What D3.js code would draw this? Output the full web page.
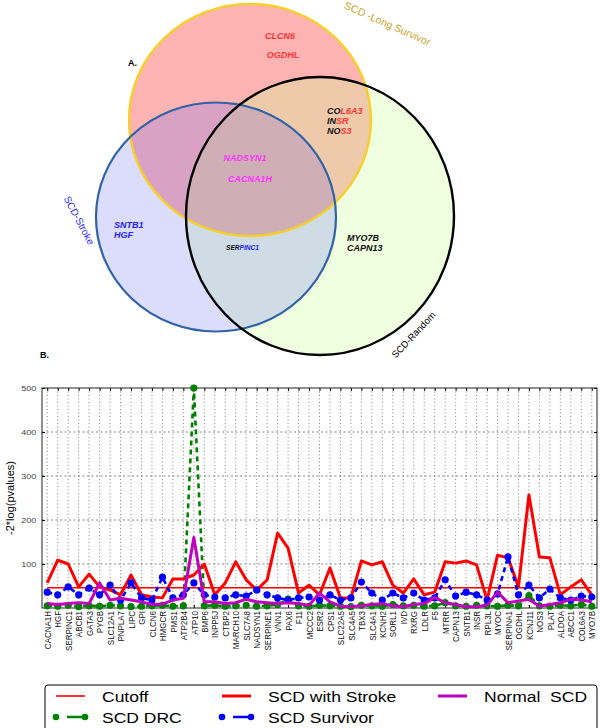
<!DOCTYPE html>
<html>
<head>
<meta charset="utf-8">
<script src="https://cdn.jsdelivr.net/npm/d3@7"></script>
<style>
  body { margin: 0; background: #fff; }
  svg { display: block; font-family: "Liberation Sans", Arial, sans-serif; }
</style>
</head>
<body>
<svg id="fig" width="600" height="728"></svg>
<script>
// ---- data ----
const genes = ['CACNA1H', 'HGF', 'SERPINC1', 'ABCB1', 'GATA3', 'PYGB', 'SLC12A1', 'PNPLA7', 'LIPC', 'GPI',
  'CLCN6', 'HMGCR', 'PMS1', 'ATP2B4', 'ATP10', 'BMP6', 'INPP5J', 'CTBP2', 'MARCH10', 'SLC7A8',
  'NADSYN1', 'SERPINE1', 'VNN1', 'PAX6', 'F11', 'MCCC2', 'ESR2', 'CPS1', 'SLC22A5', 'SLC4A5',
  'TBX3', 'SLC4A1', 'KCNH2', 'SORL1', 'IVD', 'RXRG', 'LDLR', 'F5', 'MTRR', 'CAPN13',
  'SNTB1', 'INSR', 'RPL3L', 'MYOC', 'SERPINA1', 'OGDHL', 'KCNJ11', 'NOS3', 'PLAT', 'ALDOA',
  'ABCC1', 'COL6A3', 'MYO7B'];

const cutoff = 46;

const scdStroke = [57, 109, 100, 48, 77, 48, 41, 30, 75, 30,
  25, 23, 66, 66, 75, 100, 30, 57, 105, 64,
  41, 64, 170, 136, 34, 52, 30, 91, 23, 23,
  107, 98, 105, 52, 34, 66, 30, 36, 105, 102,
  107, 98, 18, 120, 114, 48, 257, 116, 114, 30,
  48, 64, 30];

const scdSurvivor = [36, 30, 48, 30, 45, 30, 52, 18, 57, 23,
  18, 70, 23, 30, 57, 30, 25, 23, 30, 27,
  41, 30, 23, 18, 23, 25, 18, 30, 18, 23,
  59, 34, 18, 34, 23, 34, 18, 23, 64, 27,
  36, 30, 18, 32, 116, 30, 52, 23, 43, 23,
  18, 27, 25];

const scdDrc = [5, 4, 6, 3, 5, 4, 6, 5, 3, 4,
  5, 6, 4, 5, 500, 5, 6, 4, 5, 6,
  4, 5, 8, 20, 5, 4, 6, 5, 4, 3,
  6, 5, 4, 8, 5, 6, 4, 5, 12, 5,
  4, 6, 5, 4, 6, 5, 28, 5, 4, 6,
  5, 8, 4];

const normalScd = [10, 8, 10, 12, 10, 57, 18, 22, 18, 14,
  8, 9, 18, 22, 160, 14, 14, 10, 12, 20,
  14, 12, 10, 12, 10, 6, 34, 14, 4, 3,
  5, 8, 10, 5, 3, 8, 10, 24, 12, 8,
  3, 3, 6, 36, 12, 16, 20, 4, 8, 12,
  20, 18, 14];

const yTicks = [100, 200, 300, 400, 500];

// venn labels
const setNames = ['SCD -Long Survivor', 'SCD-Stroke', 'SCD-Random'];

const svg = d3.select('#fig');
// the source figure is a little stretched sideways
const SX = 1.13;

// ================= Panel A : Venn =================
const venn = svg.append('g');
const defs = svg.append('defs');

const circles = {
  surv: {cx: 250, cy: 120, rx: 121, ry: 116},
  stroke: {cx: 216, cy: 217, rx: 120, ry: 114.5},
  random: {cx: 320, cy: 216, rx: 134, ry: 139}
};

Object.keys(circles).forEach(k => {
  const c = circles[k];
  defs.append('clipPath').attr('id', 'clip-' + k)
    .append('ellipse')
    .attr('cx', c.cx).attr('cy', c.cy).attr('rx', c.rx).attr('ry', c.ry);
});

const ell = (g, c) => g.append('ellipse')
  .attr('cx', c.cx).attr('cy', c.cy).attr('rx', c.rx).attr('ry', c.ry);

ell(venn, circles.random).attr('fill', '#effedf');
ell(venn, circles.stroke).attr('fill', '#dcdcfd');
ell(venn, circles.surv).attr('fill', '#feb3b3');
ell(venn, circles.random).attr('fill', '#eecaaa').attr('clip-path', 'url(#clip-surv)');
ell(venn, circles.stroke).attr('fill', '#d9a1c4').attr('clip-path', 'url(#clip-surv)');
ell(venn, circles.stroke).attr('fill', '#cfdbe5').attr('clip-path', 'url(#clip-random)');
ell(venn.append('g').attr('clip-path', 'url(#clip-surv)'), circles.stroke)
  .attr('fill', '#cfaeb6').attr('clip-path', 'url(#clip-random)');

ell(venn, circles.surv).attr('fill', 'none').attr('stroke', '#f6cf2a').attr('stroke-width', 2.4);
ell(venn, circles.stroke).attr('fill', 'none').attr('stroke', '#2f63a6').attr('stroke-width', 2.2);
ell(venn, circles.random).attr('fill', 'none').attr('stroke', '#000').attr('stroke-width', 2.4);

// gene texts
const geneText = (tx, ty, parts, size, anchor) => {
  const t = venn.append('text')
    .attr('x', tx).attr('y', ty)
    .attr('font-size', size || 9)
    .attr('font-weight', 'bold')
    .attr('font-style', 'italic')
    .attr('text-anchor', anchor || 'start');
  parts.forEach(p => t.append('tspan').attr('fill', p[1]).text(p[0]));
};
const RED = '#ff3333', MAG = '#ff33ff', BLU = '#2222ff', BLK = '#111';
geneText(280, 39, [['CLCN6', RED]], 9, 'middle');
geneText(283, 58, [['OGDHL', RED]], 9, 'middle');
geneText(327, 114, [['CO', BLK], ['L6A3', RED]]);
geneText(327, 124, [['IN', BLK], ['SR', RED]]);
geneText(327, 134, [['NO', BLK], ['S3', RED]]);
geneText(245, 161, [['NADSYN1', MAG]], 9, 'middle');
geneText(250, 182, [['CACNA1H', MAG]], 9, 'middle');
geneText(114, 228, [['SNTB1', BLU]]);
geneText(114, 238, [['HGF', BLU]]);
geneText(226, 249.5, [['SER', BLK], ['PINC1', BLU]], 6.6);
geneText(347, 241, [['MYO7B', BLK]]);
geneText(347, 251, [['CAPN13', BLK]]);

venn.append('text').attr('x', 128).attr('y', 66)
  .attr('font-size', 9).attr('font-weight', 'bold').text('A.');

venn.append('text')
  .attr('transform', 'translate(386,27) rotate(24)')
  .attr('text-anchor', 'middle').attr('font-size', 10.5)
  .attr('fill', '#c9a227').text(setNames[0]);
venn.append('text')
  .attr('transform', 'translate(76,222) rotate(62)')
  .attr('text-anchor', 'middle').attr('font-size', 10)
  .attr('fill', '#2a2aff').text(setNames[1]);
venn.append('text')
  .attr('transform', 'translate(416,337) rotate(-47)')
  .attr('text-anchor', 'middle').attr('font-size', 9.5)
  .attr('fill', '#000').text(setNames[2]);

// ================= Panel B : line chart =================
svg.append('text').attr('x', 40).attr('y', 358)
  .attr('font-size', 9).attr('font-weight', 'bold').text('B.');

const pLeft = 42, pRight = 597, pTop = 388, pBottom = 608;

const x = d3.scalePoint().domain(genes).range([pLeft, pRight]).padding(0.5);
const y = d3.scaleLinear().domain([0, 500]).range([pBottom, pTop]);

const chart = svg.append('g');

// grid
chart.append('g').selectAll('line').data(genes).join('line')
  .attr('x1', d => x(d)).attr('x2', d => x(d))
  .attr('y1', pTop).attr('y2', pBottom)
  .attr('stroke', '#777').attr('stroke-width', 0.9).attr('stroke-dasharray', '1,2.5');
chart.append('g').selectAll('line').data(yTicks.slice(0, -1)).join('line')
  .attr('x1', pLeft).attr('x2', pRight)
  .attr('y1', d => y(d)).attr('y2', d => y(d))
  .attr('stroke', '#777').attr('stroke-width', 0.9).attr('stroke-dasharray', '2,2.5');

// axes
const xAxis = chart.append('g')
  .attr('transform', `translate(0, ${pBottom})`)
  .call(d3.axisBottom(x).tickSize(-3).tickSizeOuter(0));
xAxis.select('.domain').remove();
xAxis.selectAll('text')
  .attr('transform', `scale(${SX},1) rotate(-90)`)
  .attr('text-anchor', 'end')
  .attr('x', -3).attr('y', 0).attr('dy', '0.35em')
  .attr('font-size', 8).attr('font-family', '"Liberation Sans", Arial, sans-serif')
  .attr('fill', '#111');

const xTop = chart.append('g')
  .attr('transform', `translate(0, ${pTop})`)
  .call(d3.axisTop(x).tickSize(-3).tickFormat(''));
xTop.select('.domain').remove();

const yAxis = chart.append('g')
  .attr('transform', `translate(${pLeft}, 0)`)
  .call(d3.axisLeft(y).tickValues(yTicks).tickSize(-3).tickPadding(5));
yAxis.select('.domain').remove();
yAxis.selectAll('text').attr('font-size', 8).attr('fill', '#444')
  .attr('font-family', '"Liberation Sans", Arial, sans-serif')
  .attr('transform', `scale(${SX},1)`);

const yRight = chart.append('g')
  .attr('transform', `translate(${pRight}, 0)`)
  .call(d3.axisRight(y).tickValues(yTicks).tickSize(-3).tickFormat(''));
yRight.select('.domain').remove();

chart.append('rect')
  .attr('x', pLeft).attr('y', pTop)
  .attr('width', pRight - pLeft).attr('height', pBottom - pTop)
  .attr('fill', 'none').attr('stroke', '#222').attr('stroke-width', 1);

svg.append('text')
  .attr('transform', `translate(14, ${(pTop + pBottom) / 2}) rotate(-90)`)
  .attr('text-anchor', 'middle').attr('font-size', 11)
  .text('-2*log(pvalues)');

// series
const series = [
  {name: 'Cutoff', values: genes.map(() => cutoff), color: '#ff0000', width: 1.6},
  {name: 'SCD DRC', values: scdDrc, color: '#008000', width: 2.6, dash: '5,4', marker: true},
  {name: 'SCD with Stroke', values: scdStroke, color: '#ff0000', width: 3},
  {name: 'SCD Survivor', values: scdSurvivor, color: '#0000ff', width: 2.6, dash: '5,4', marker: true},
  {name: 'Normal  SCD', values: normalScd, color: '#bf00bf', width: 3}
];

const line = d3.line()
  .x((d, i) => x(genes[i]))
  .y(d => y(d));

series.forEach(s => {
  const g = chart.append('g');
  g.append('path')
    .attr('d', line(s.values))
    .attr('fill', 'none')
    .attr('stroke', s.color)
    .attr('stroke-width', s.width)
    .attr('stroke-linejoin', 'round')
    .attr('stroke-dasharray', s.dash || null);
  if (s.marker) {
    g.selectAll('circle').data(s.values).join('circle')
      .attr('cx', (d, i) => x(genes[i]))
      .attr('cy', d => y(d))
      .attr('r', 3.6)
      .attr('fill', s.color);
  }
});

// legend
const legend = svg.append('g');
legend.append('rect')
  .attr('x', 45).attr('y', 685).attr('width', 552).attr('height', 60).attr('rx', 3)
  .attr('fill', '#fff').attr('stroke', '#000').attr('stroke-width', 1);

const legPos = [[56, 696], [56, 717], [222, 696], [222, 717], [438, 696]];
series.forEach((s, i) => {
  const [lx, ly] = legPos[i];
  const g = legend.append('g').attr('transform', `translate(${lx}, ${ly})`);
  g.append('line').attr('x1', 0).attr('x2', 29).attr('y1', 0).attr('y2', 0)
    .attr('stroke', s.color).attr('stroke-width', s.width)
    .attr('stroke-dasharray', s.dash ? '3,8,20' : null);
  if (s.marker) {
    g.selectAll('circle').data([0, 29]).join('circle')
      .attr('cx', d => d).attr('cy', 0).attr('r', 3.3).attr('fill', s.color);
  }
  g.append('text').attr('transform', `translate(46,0) scale(${SX},1)`)
    .attr('dy', '0.36em')
    .attr('font-size', 15.5).style('white-space', 'pre').text(s.name);
});
</script>
</body>
</html>
